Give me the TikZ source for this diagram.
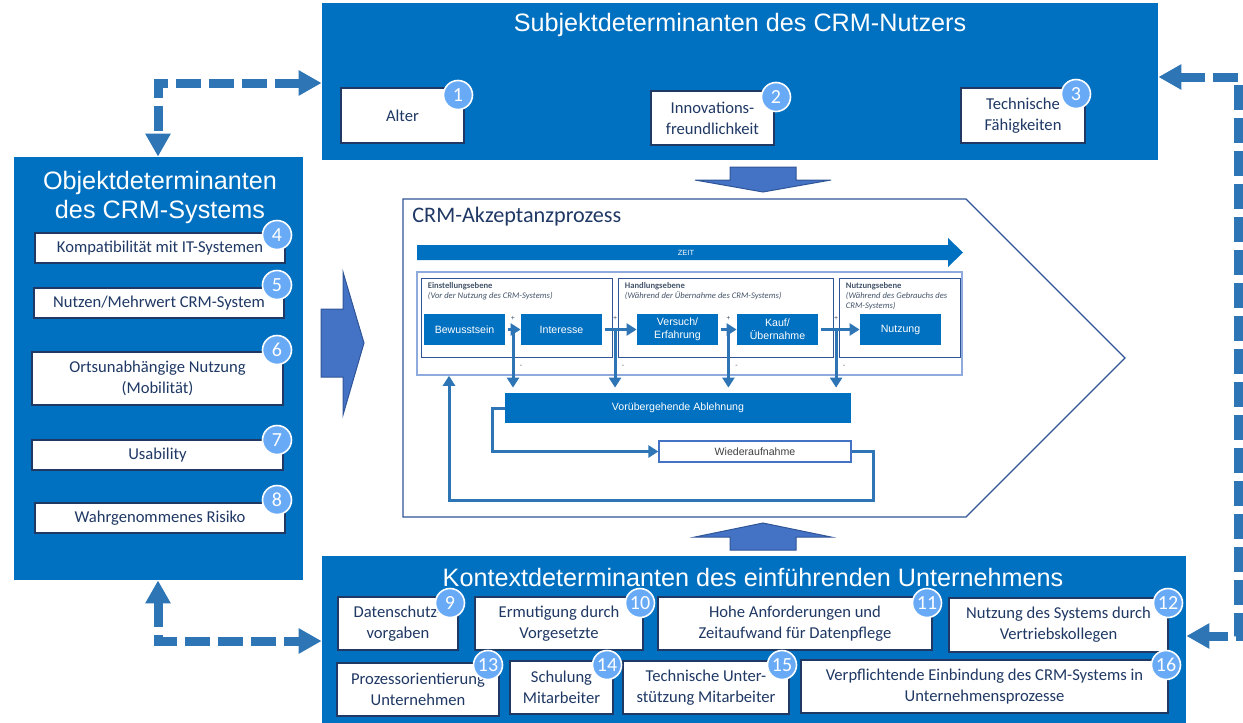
\documentclass[tikz,border=0pt]{standalone}
\usepackage{fontspec}
\setmainfont{Carlito}
\newfontfamily\arialfont{Liberation Sans}
\usetikzlibrary{arrows.meta,calc}
\definecolor{crmblue}{RGB}{0,112,192}
\definecolor{arrblue}{RGB}{46,117,182}
\definecolor{blockblue}{RGB}{68,114,196}
\definecolor{blockline}{RGB}{47,85,151}
\definecolor{navy}{RGB}{31,56,100}
\definecolor{badgeblue}{RGB}{104,170,245}
\definecolor{framegrey}{RGB}{143,170,220}
\definecolor{headgrey}{RGB}{68,84,106}

\begin{document}
\begin{tikzpicture}[x=0.5pt,y=-0.5pt,
  every node/.style={inner sep=0pt},
  block/.style={fill=crmblue},
  titel/.style={text=white,align=center,font=\arialfont\fontsize{12.6}{14.5}\selectfont},
  detbox/.style={draw=navy,line width=0.6pt,fill=white,text=navy,align=center,font=\fontsize{8.3}{10.5}\selectfont},
  nrbadge/.style={circle,fill=badgeblue,draw=white,line width=0.8pt,minimum size=14.5pt,text=white,font=\fontsize{10}{10}\selectfont},
  stage/.style={fill=crmblue,text=white,align=center,font=\arialfont\fontsize{5.3}{6.5}\selectfont},
  wbox/.style={draw=blockblue,line width=0.6pt,fill=white,text=black!75,font=\arialfont\fontsize{5.3}{6.5}\selectfont},
  ebene/.style={draw=blockline,line width=0.5pt},
  ebenetext/.style={anchor=north west,align=left,text=headgrey,font=\fontsize{4.3}{5}\selectfont},
  flow/.style={draw=arrblue,line width=1.5pt,-{Triangle[length=5pt,width=6pt]}},
  sign/.style={text=headgrey,font=\arialfont\fontsize{3.5}{4}\selectfont},
  dasharrow/.style={draw=arrblue,line width=4.5pt,dash pattern=on 12.5pt off 4pt,
    {Triangle[length=11.5pt,width=12pt]}-{Triangle[length=11.5pt,width=12pt]}},
  bigarrow/.style={fill=blockblue,draw=blockline,line width=0.5pt}]
  \useasboundingbox (0,0) rectangle (1243,723);
  % box helper: style, name, corners, text
  \newcommand{\pxnode}[7][]{\node[#1,minimum width={(#5-#3)*0.5pt},minimum height={(#6-#4)*0.5pt}] (#2) at ({(#3+#5)/2},{(#4+#6)/2}) {#7};}
  \newcommand{\nrbadge}[3]{\node[nrbadge] (n#1) at (#2,#3) {#1};}

  % subject determinants
  \pxnode[block]{subj}{322}{3}{1158}{160}{}
  \node[titel] (subjT) at (740,25) {Subjektdeterminanten des CRM-Nutzers};
  \pxnode[detbox]{alter}{341}{88}{464}{143}{Alter}
  \pxnode[detbox]{innov}{651}{91}{774}{145}{Innovations-\\freundlichkeit}
  \pxnode[detbox]{techn}{961}{88}{1085}{143}{Technische\\Fähigkeiten}
  \nrbadge{1}{458}{95}
  \nrbadge{2}{776}{97}
  \nrbadge{3}{1076}{94}

  % object determinants
  \pxnode[block]{obj}{14}{157}{303}{580}{}
  \node[titel] (objT) at (160,197) {Objektdeterminanten\\des CRM-Systems};
  \pxnode[detbox]{komp}{35}{233}{285}{263}{Kompatibilität mit IT-Systemen}
  \pxnode[detbox]{nutzen}{34}{288}{284}{318}{Nutzen/Mehrwert CRM-System}
  \pxnode[detbox]{mobil}{32}{352}{283}{405}{Ortsunabhängige Nutzung\\(Mobilität)}
  \pxnode[detbox]{usab}{32}{440}{283}{470}{Usability}
  \pxnode[detbox]{risiko}{35}{503}{285}{533}{Wahrgenommenes Risiko}
  \nrbadge{4}{277}{235}
  \nrbadge{5}{277}{285}
  \nrbadge{6}{277}{350}
  \nrbadge{7}{277}{440}
  \nrbadge{8}{277}{500}

  % context determinants
  \pxnode[block]{kont}{322}{556}{1186}{723}{}
  \node[titel] (kontT) at (753,577) {Kontextdeterminanten des einführenden Unternehmens};
  \pxnode[detbox]{daten}{338}{597}{458}{650}{Datenschutz-\\vorgaben}
  \pxnode[detbox]{ermut}{475}{597}{643}{650}{Ermutigung durch\\Vorgesetzte}
  \pxnode[detbox]{anford}{658}{597}{932}{650}{Hohe Anforderungen und\\Zeitaufwand für Datenpflege}
  \pxnode[detbox]{vertrieb}{949}{598}{1168}{652}{Nutzung des Systems durch\\Vertriebskollegen}
  \pxnode[detbox]{prozess}{337}{663}{499}{716}{Prozessorientierung\\Unternehmen}
  \pxnode[detbox]{schul}{510}{661}{613}{714}{Schulung\\Mitarbeiter}
  \pxnode[detbox]{support}{623}{661}{789}{714}{Technische Unter-\\stützung Mitarbeiter}
  \pxnode[detbox]{pflicht}{801}{660}{1168}{713}{Verpflichtende Einbindung des CRM-Systems in\\Unternehmensprozesse}
  \nrbadge{9}{450}{603}
  \nrbadge{10}{640}{603}
  \nrbadge{11}{927}{603}
  \nrbadge{12}{1168}{603}
  \nrbadge{13}{488}{665}
  \nrbadge{14}{607}{665}
  \nrbadge{15}{782}{665}
  \nrbadge{16}{1166}{665}

  % acceptance process
  \draw[fill=white,draw=blockline,line width=0.6pt] (403,199) -- (966,199) -- (1125,358) -- (966,517) -- (403,517) -- cycle;
  \node[anchor=west,text=navy,font=\fontsize{11.1}{12}\selectfont] (akzT) at (412,217) {CRM-Akzeptanzprozess};
  \fill[crmblue] (417,245) -- (948,245) -- (948,238) -- (963,252.5) -- (948,267) -- (948,260) -- (417,260) -- cycle;
  \node[text=white,font=\arialfont\fontsize{3.75}{4}\selectfont] (zeit) at (686,252.5) {ZEIT};
  \pxnode[draw=framegrey,line width=0.8pt]{frame}{417}{272}{962}{375}{}
  \pxnode[ebene]{einst}{421}{278}{612}{357}{}
  \pxnode[ebene]{handl}{618}{278}{833}{357}{}
  \pxnode[ebene]{nutzeb}{839}{278}{960}{357}{}
  \node[ebenetext] (einstT) at ([shift={(7,5)}]einst.north west) {\textbf{Einstellungsebene}\\\textit{(Vor der Nutzung des CRM-Systems)}};
  \node[ebenetext] (handlT) at ([shift={(7,5)}]handl.north west) {\textbf{Handlungsebene}\\\textit{(Während der Übernahme des CRM-Systems)}};
  \node[ebenetext] (nutzebT) at ([shift={(7,5)}]nutzeb.north west) {\textbf{Nutzungsebene}\\\textit{(Während des Gebrauchs des}\\\textit{CRM-Systems)}};
  \pxnode[stage]{bew}{424}{314}{505}{345}{Bewusstsein}
  \pxnode[stage]{inter}{521}{314}{602}{345}{Interesse}
  \pxnode[stage]{versuch}{637}{314}{718}{345}{Versuch/\\Erfahrung}
  \pxnode[stage]{kauf}{737}{314}{818}{345}{Kauf/\\Übernahme}
  \pxnode[stage]{nutz}{860}{314}{941}{345}{Nutzung}
  \pxnode[stage]{abl}{505}{393}{851}{423}{Vorübergehende Ablehnung}
  \pxnode[wbox]{wied}{659}{441}{851}{462}{Wiederaufnahme}
  \coordinate (j1) at ($(bew.east)!0.5!(inter.west)$);
  \coordinate (j2) at ($(inter.east)!0.37!(versuch.west)$);
  \coordinate (j3) at ($(versuch.east)!0.55!(kauf.west)$);
  \coordinate (j4) at ($(kauf.east)!0.43!(nutz.west)$);
  \foreach \a/\b/\j in {bew/inter/j1,inter/versuch/j2,versuch/kauf/j3,kauf/nutz/j4}{
    \draw[flow,shorten <=1.5pt] (\a.east) -- (\b.west);
    \draw[flow,shorten >=2.5pt] (\j) -- (\j |- abl.north);
    \node[sign] (p\j) at ($(\j)+(0,-11)$) {+};
    \node[sign] (m\j) at ($(\j)+(8,37)$) {-};
  }
  % loop back
  \draw[flow] (abl.west) -- ++(-12,0) |- (wied.west);
  \coordinate (ret) at (449,500);
  \draw[flow] (wied.east) -- ++(22,0) |- (ret) -- (ret |- frame.south);

  % block arrows
  \filldraw[bigarrow] (321,309) -- (343,309) -- (343,272) -- (364,343) -- (343,415) -- (343,377) -- (321,377) -- cycle;
  \filldraw[bigarrow] (730,167) -- (796,167) -- (796,180) -- (831,180) -- (763,192) -- (695,180) -- (730,180) -- cycle;
  \filldraw[bigarrow] (763,523) -- (831,537) -- (796,537) -- (796,550) -- (730,550) -- (730,537) -- (695,537) -- cycle;

  % dashed links
  \coordinate (tl) at (158,83);
  \draw[dasharrow] (subj.west |- tl) -- (tl) -- (tl |- obj.north);
  \coordinate (bl) at (158,641);
  \draw[dasharrow] (bl |- obj.south) -- (bl) -- (kont.west |- bl);
  \coordinate (tr) at (1238,77);
  \coordinate (br) at (1238,636);
  \draw[dasharrow] (subj.east |- tr) -- (tr) -- (br) -- (kont.east |- br);
\end{tikzpicture}
\end{document}
